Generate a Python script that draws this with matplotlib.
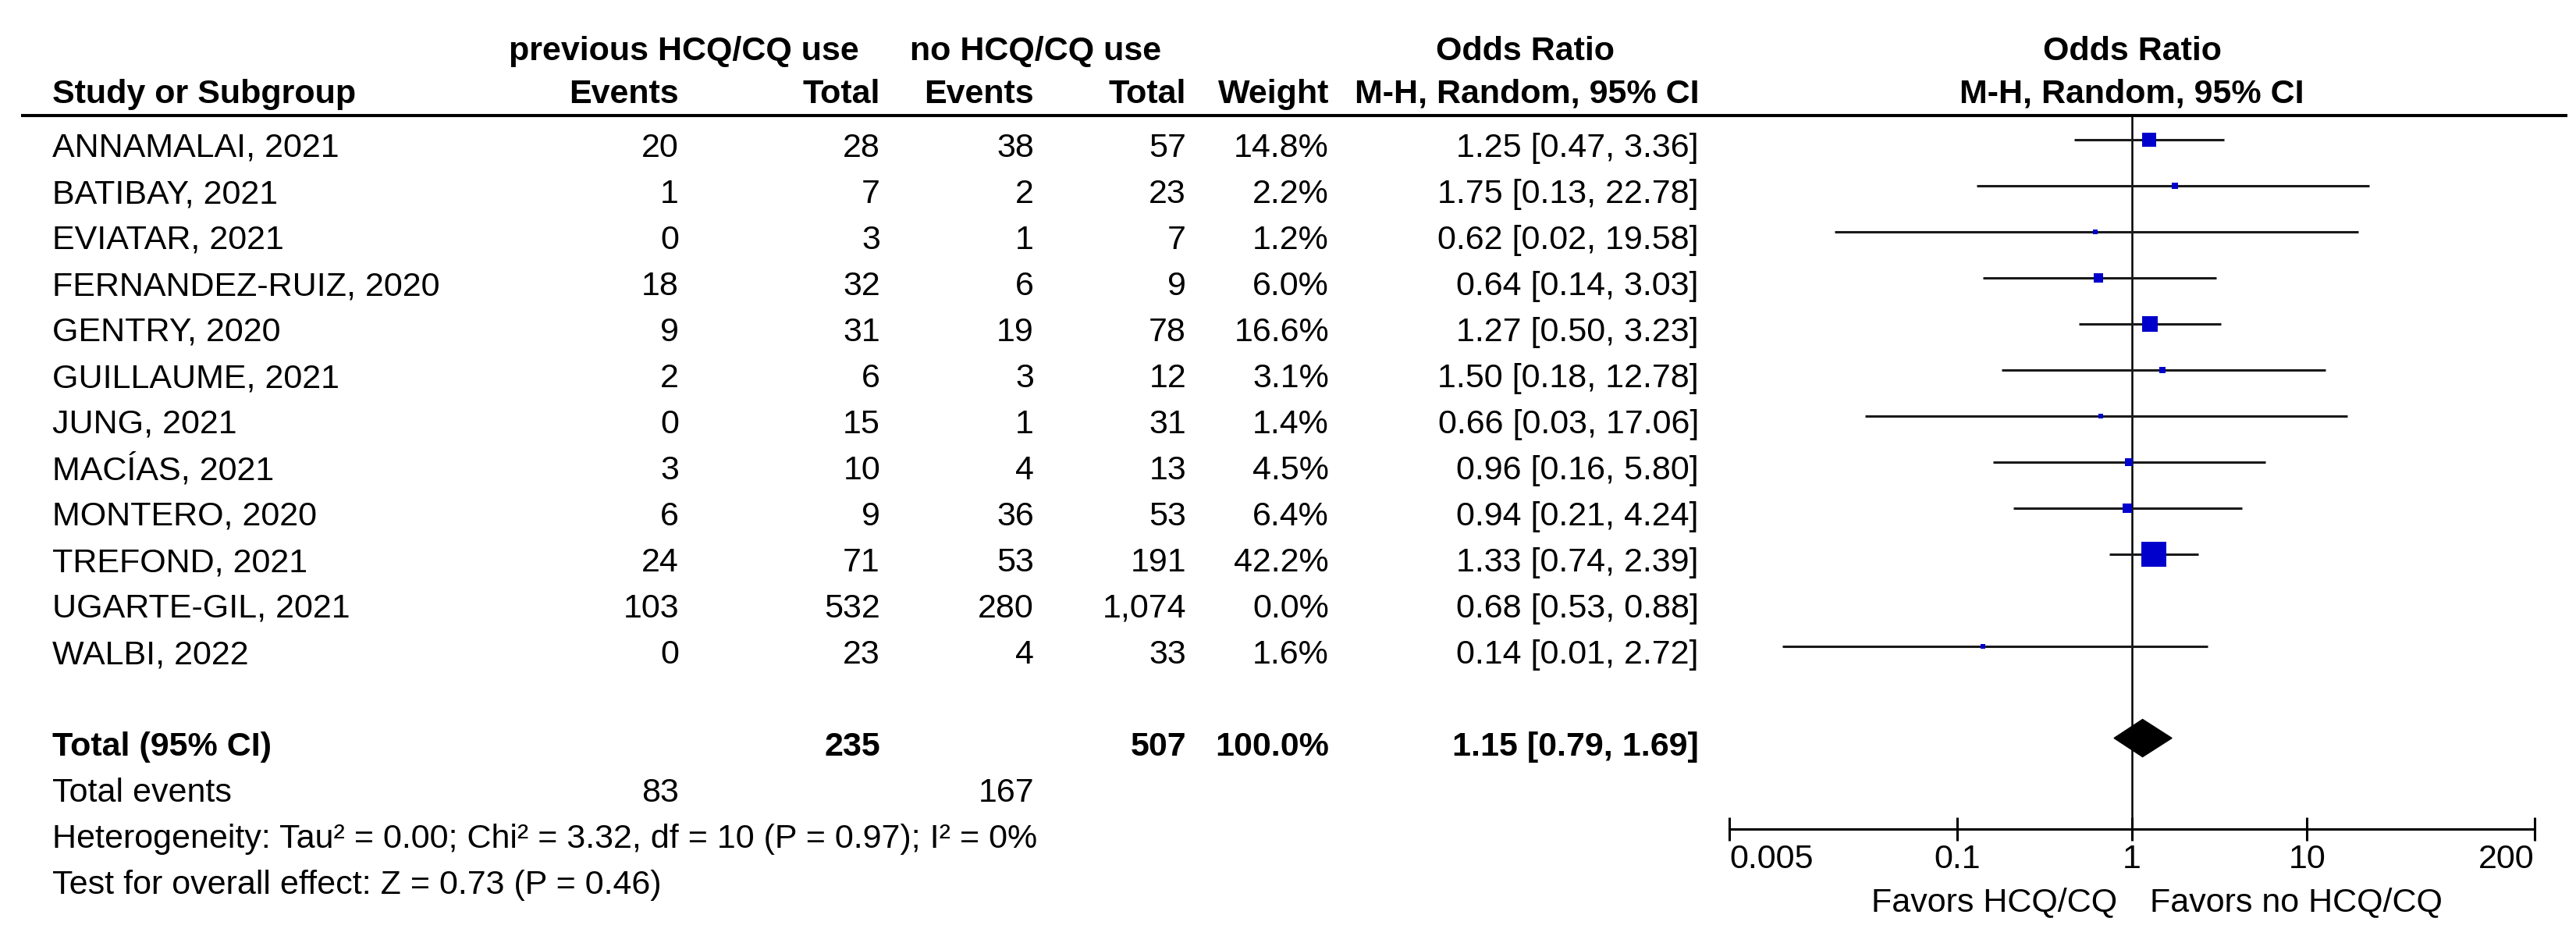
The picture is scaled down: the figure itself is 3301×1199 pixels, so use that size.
import matplotlib
matplotlib.use("Agg")
import matplotlib.pyplot as plt

plt.rcParams['font.family'] = ['Liberation Sans', 'DejaVu Sans']

# study data
studies = ['ANNAMALAI, 2021', 'BATIBAY, 2021', 'EVIATAR, 2021', 'FERNANDEZ-RUIZ, 2020',
           'GENTRY, 2020', 'GUILLAUME, 2021', 'JUNG, 2021', 'MACÍAS, 2021',
           'MONTERO, 2020', 'TREFOND, 2021', 'UGARTE-GIL, 2021', 'WALBI, 2022']
ev_hcq = [20, 1, 0, 18, 9, 2, 0, 3, 6, 24, 103, 0]
tot_hcq = [28, 7, 3, 32, 31, 6, 15, 10, 9, 71, 532, 23]
ev_no = [38, 2, 1, 6, 19, 3, 1, 4, 36, 53, 280, 4]
tot_no = [57, 23, 7, 9, 78, 12, 31, 13, 53, 191, 1074, 33]
weights = [14.8, 2.2, 1.2, 6.0, 16.6, 3.1, 1.4, 4.5, 6.4, 42.2, 0.0, 1.6]
odds = [1.25, 1.75, 0.62, 0.64, 1.27, 1.50, 0.66, 0.96, 0.94, 1.33, 0.68, 0.14]
ci_lo = [0.47, 0.13, 0.02, 0.14, 0.50, 0.18, 0.03, 0.16, 0.21, 0.74, 0.53, 0.01]
ci_hi = [3.36, 22.78, 19.58, 3.03, 3.23, 12.78, 17.06, 5.80, 4.24, 2.39, 0.88, 2.72]

total_or = 1.15
total_lo = 0.79
total_hi = 1.69
total_n_hcq = 235
total_n_no = 507
total_ev_hcq = 83
total_ev_no = 167

xticks = [0.005, 0.1, 1, 10, 200]
xticklabels = ['0.005', '0.1', '1', '10', '200']

W, H = 3301, 1199
fs = 31
fig = plt.figure(figsize=(W / 100, H / 100), dpi=100)

# table axes in pixel coordinates
ax_t = fig.add_axes([0, 0, 1, 1])
ax_t.set_xlim(0, W)
ax_t.set_ylim(H, 0)
ax_t.axis('off')

def base(k):
    return 201 + 59 * k

def row_line(k):
    return 178.5 + 59 * k

x_name = 67
x_ev1, x_tot1, x_ev2, x_tot2, x_w, x_or = 870, 1128, 1325, 1520, 1703, 2177

# headers
ax_t.text(876, 77, 'previous HCQ/CQ use', ha='center', fontsize=fs, fontweight='bold')
ax_t.text(1327, 77, 'no HCQ/CQ use', ha='center', fontsize=fs, fontweight='bold')
ax_t.text(1955, 77, 'Odds Ratio', ha='center', fontsize=fs, fontweight='bold')
ax_t.text(2732, 77, 'Odds Ratio', ha='center', fontsize=fs, fontweight='bold')
ax_t.text(x_name, 132, 'Study or Subgroup', ha='left', fontsize=fs, fontweight='bold')
for x, lab in [(x_ev1, 'Events'), (x_tot1, 'Total'), (x_ev2, 'Events'),
               (x_tot2, 'Total'), (x_w, 'Weight'), (x_or, 'M-H, Random, 95% CI')]:
    ax_t.text(x, 132, lab, ha='right', fontsize=fs, fontweight='bold')
ax_t.text(2732, 132, 'M-H, Random, 95% CI', ha='center', fontsize=fs, fontweight='bold')
ax_t.plot([27, 3290], [148, 148], color='black', lw=2.9, solid_capstyle='butt')

# study rows
for k, name in enumerate(studies):
    y = base(k)
    ax_t.text(x_name, y, name, ha='left', fontsize=fs)
    ax_t.text(x_ev1, y, f'{ev_hcq[k]:,}', ha='right', fontsize=fs)
    ax_t.text(x_tot1, y, f'{tot_hcq[k]:,}', ha='right', fontsize=fs)
    ax_t.text(x_ev2, y, f'{ev_no[k]:,}', ha='right', fontsize=fs)
    ax_t.text(x_tot2, y, f'{tot_no[k]:,}', ha='right', fontsize=fs)
    ax_t.text(x_w, y, f'{weights[k]:.1f}%', ha='right', fontsize=fs)
    ax_t.text(x_or, y, f'{odds[k]:.2f} [{ci_lo[k]:.2f}, {ci_hi[k]:.2f}]', ha='right', fontsize=fs)

# totals
y = base(13)
ax_t.text(x_name, y, 'Total (95% CI)', ha='left', fontsize=fs, fontweight='bold')
ax_t.text(x_tot1, y, f'{total_n_hcq}', ha='right', fontsize=fs, fontweight='bold')
ax_t.text(x_tot2, y, f'{total_n_no}', ha='right', fontsize=fs, fontweight='bold')
ax_t.text(x_w, y, f'{sum(weights):.1f}%', ha='right', fontsize=fs, fontweight='bold')
ax_t.text(x_or, y, f'{total_or:.2f} [{total_lo:.2f}, {total_hi:.2f}]', ha='right',
          fontsize=fs, fontweight='bold')
y = base(14)
ax_t.text(x_name, y, 'Total events', ha='left', fontsize=fs)
ax_t.text(x_ev1, y, f'{total_ev_hcq}', ha='right', fontsize=fs)
ax_t.text(x_ev2, y, f'{total_ev_no}', ha='right', fontsize=fs)
ax_t.text(x_name, base(15),
          'Heterogeneity: Tau\u00b2 = 0.00; Chi\u00b2 = 3.32, df = 10 (P = 0.97); I\u00b2 = 0%',
          ha='left', fontsize=fs)
ax_t.text(x_name, base(16), 'Test for overall effect: Z = 0.73 (P = 0.46)',
          ha='left', fontsize=fs)

ax_t.text(2713, 1167, 'Favors HCQ/CQ', ha='right', fontsize=fs)
ax_t.text(2755, 1167, 'Favors no HCQ/CQ', ha='left', fontsize=fs)

# forest plot axes (y in pixel rows)
ax_f = fig.add_axes([2216 / W, (H - 1062) / H, (3248 - 2216) / W, (1062 - 148) / H])
ax_f.set_facecolor('none')
ax_f.set_xscale('log')
ax_f.set_xlim(0.005, 200)
ax_f.set_ylim(1062, 148)
for s in ['left', 'right', 'top']:
    ax_f.spines[s].set_visible(False)
ax_f.spines['bottom'].set_linewidth(2.2)
ax_f.set_yticks([])
ax_f.set_xticks(xticks)
ax_f.set_xticklabels(xticklabels)
ax_f.minorticks_off()
ax_f.tick_params(axis='x', direction='inout', length=21.6, width=2.2, pad=3, labelsize=fs)
tl = ax_f.get_xticklabels()
tl[0].set_horizontalalignment('left')
tl[-1].set_horizontalalignment('right')

ax_f.axvline(1, color='black', lw=1.8, zorder=1)

for k in range(len(studies)):
    if weights[k] == 0:
        continue
    yk = row_line(k)
    ax_f.plot([ci_lo[k], ci_hi[k]], [yk, yk], color='#1a1a1a', lw=2.2, zorder=2,
              solid_capstyle='butt')
    side = 4.93 * weights[k] ** 0.5 * 0.72
    ax_f.scatter([odds[k]], [yk], marker='s', s=side ** 2, color='#0000CC',
                 linewidths=0, zorder=3)

yt = row_line(13)
ax_f.fill([total_lo, total_or, total_hi, total_or], [yt, yt - 24, yt, yt + 24],
          color='black', zorder=3)

fig.savefig('out.png', dpi=100)
